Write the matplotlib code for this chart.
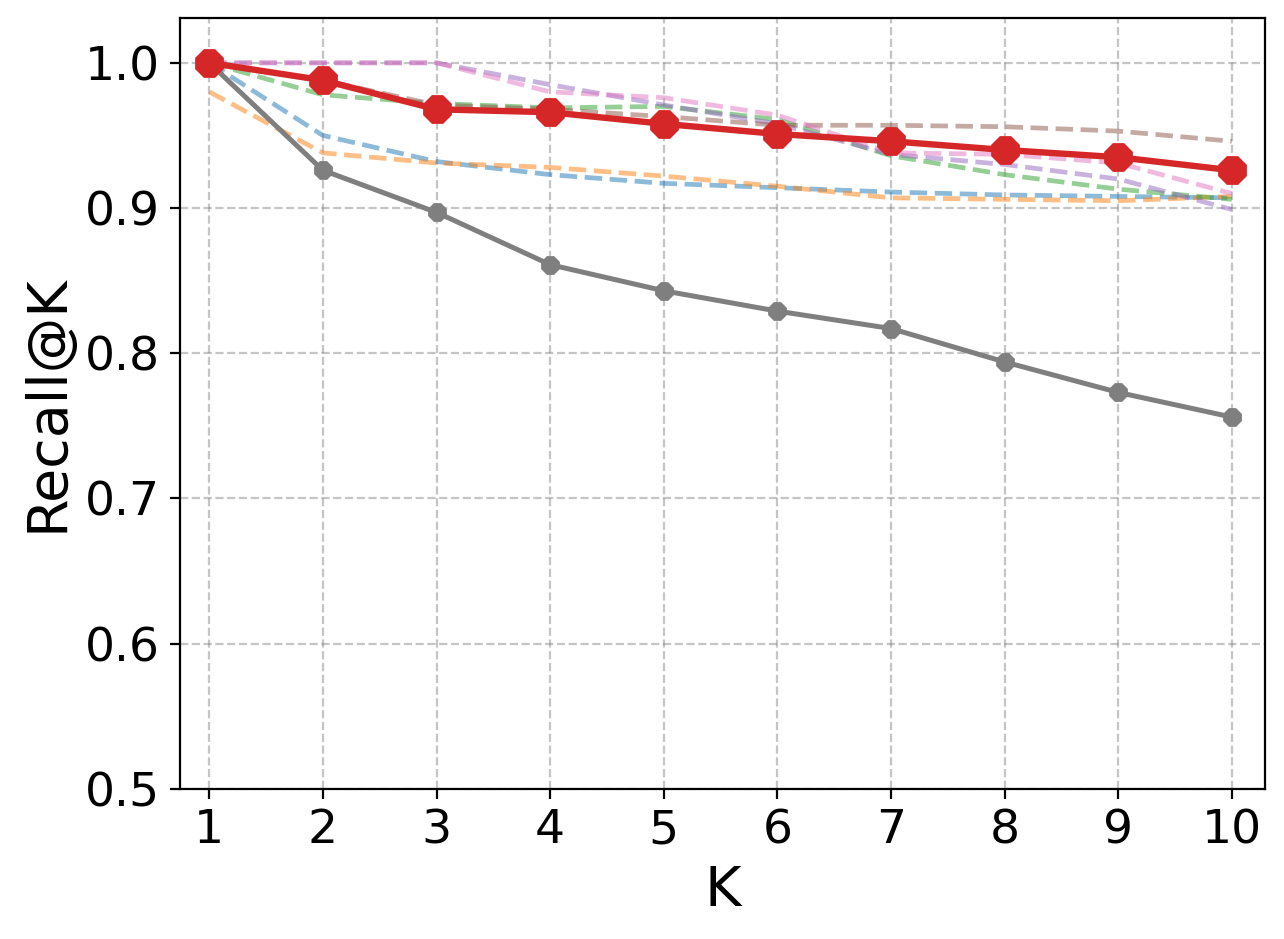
import matplotlib
matplotlib.use("Agg")
import matplotlib.pyplot as plt
import numpy as np

k = np.arange(1, 11)

# main method (red) and baseline (gray)
ours = [1.000, 0.988, 0.968, 0.966, 0.958, 0.951, 0.946, 0.940, 0.935, 0.926]
base = [1.000, 0.926, 0.897, 0.861, 0.843, 0.829, 0.817, 0.794, 0.773, 0.756]

# faded dashed comparison curves
blue = [1.000, 0.950, 0.932, 0.923, 0.917, 0.914, 0.911, 0.909, 0.908, 0.907]
orange = [0.980, 0.938, 0.931, 0.928, 0.922, 0.915, 0.907, 0.906, 0.905, 0.908]
green = [1.000, 0.978, 0.972, 0.969, 0.970, 0.961, 0.936, 0.923, 0.913, 0.906]
purple = [1.000, 1.000, 1.000, 0.985, 0.971, 0.958, 0.937, 0.930, 0.920, 0.899]
brown = [1.000, 0.988, 0.971, 0.968, 0.963, 0.957, 0.957, 0.956, 0.953, 0.946]
pink = [1.000, 1.000, 1.000, 0.980, 0.976, 0.964, 0.938, 0.937, 0.931, 0.910]

fig, ax = plt.subplots(figsize=(6.42, 4.695), dpi=200)

for vals, c in [(blue, 'tab:blue'), (orange, 'tab:orange'), (green, 'tab:green'),
                (purple, 'tab:purple'), (brown, 'tab:brown'), (pink, 'tab:pink')]:
    ax.plot(k, vals, linestyle='--', color=c, alpha=0.5, linewidth=1.7)

ax.plot(k, base, color='tab:gray', marker='8', markersize=6, linewidth=1.8)
ax.plot(k, ours, color='tab:red', marker='8', markersize=10, linewidth=2.3)

ax.set_xlim(0.74, 10.29)
ax.set_ylim(0.5, 1.031)
ax.set_xticks(k)
ax.set_yticks([0.5, 0.6, 0.7, 0.8, 0.9, 1.0])
ax.tick_params(labelsize=17)
ax.set_xlabel('K', fontsize=20)
ax.set_ylabel('Recall@K', fontsize=20)
ax.grid(True, linestyle='--', color='gray', alpha=0.45)

fig.subplots_adjust(left=0.140, right=0.985, bottom=0.160, top=0.981)
fig.savefig('out.png', dpi=200)
